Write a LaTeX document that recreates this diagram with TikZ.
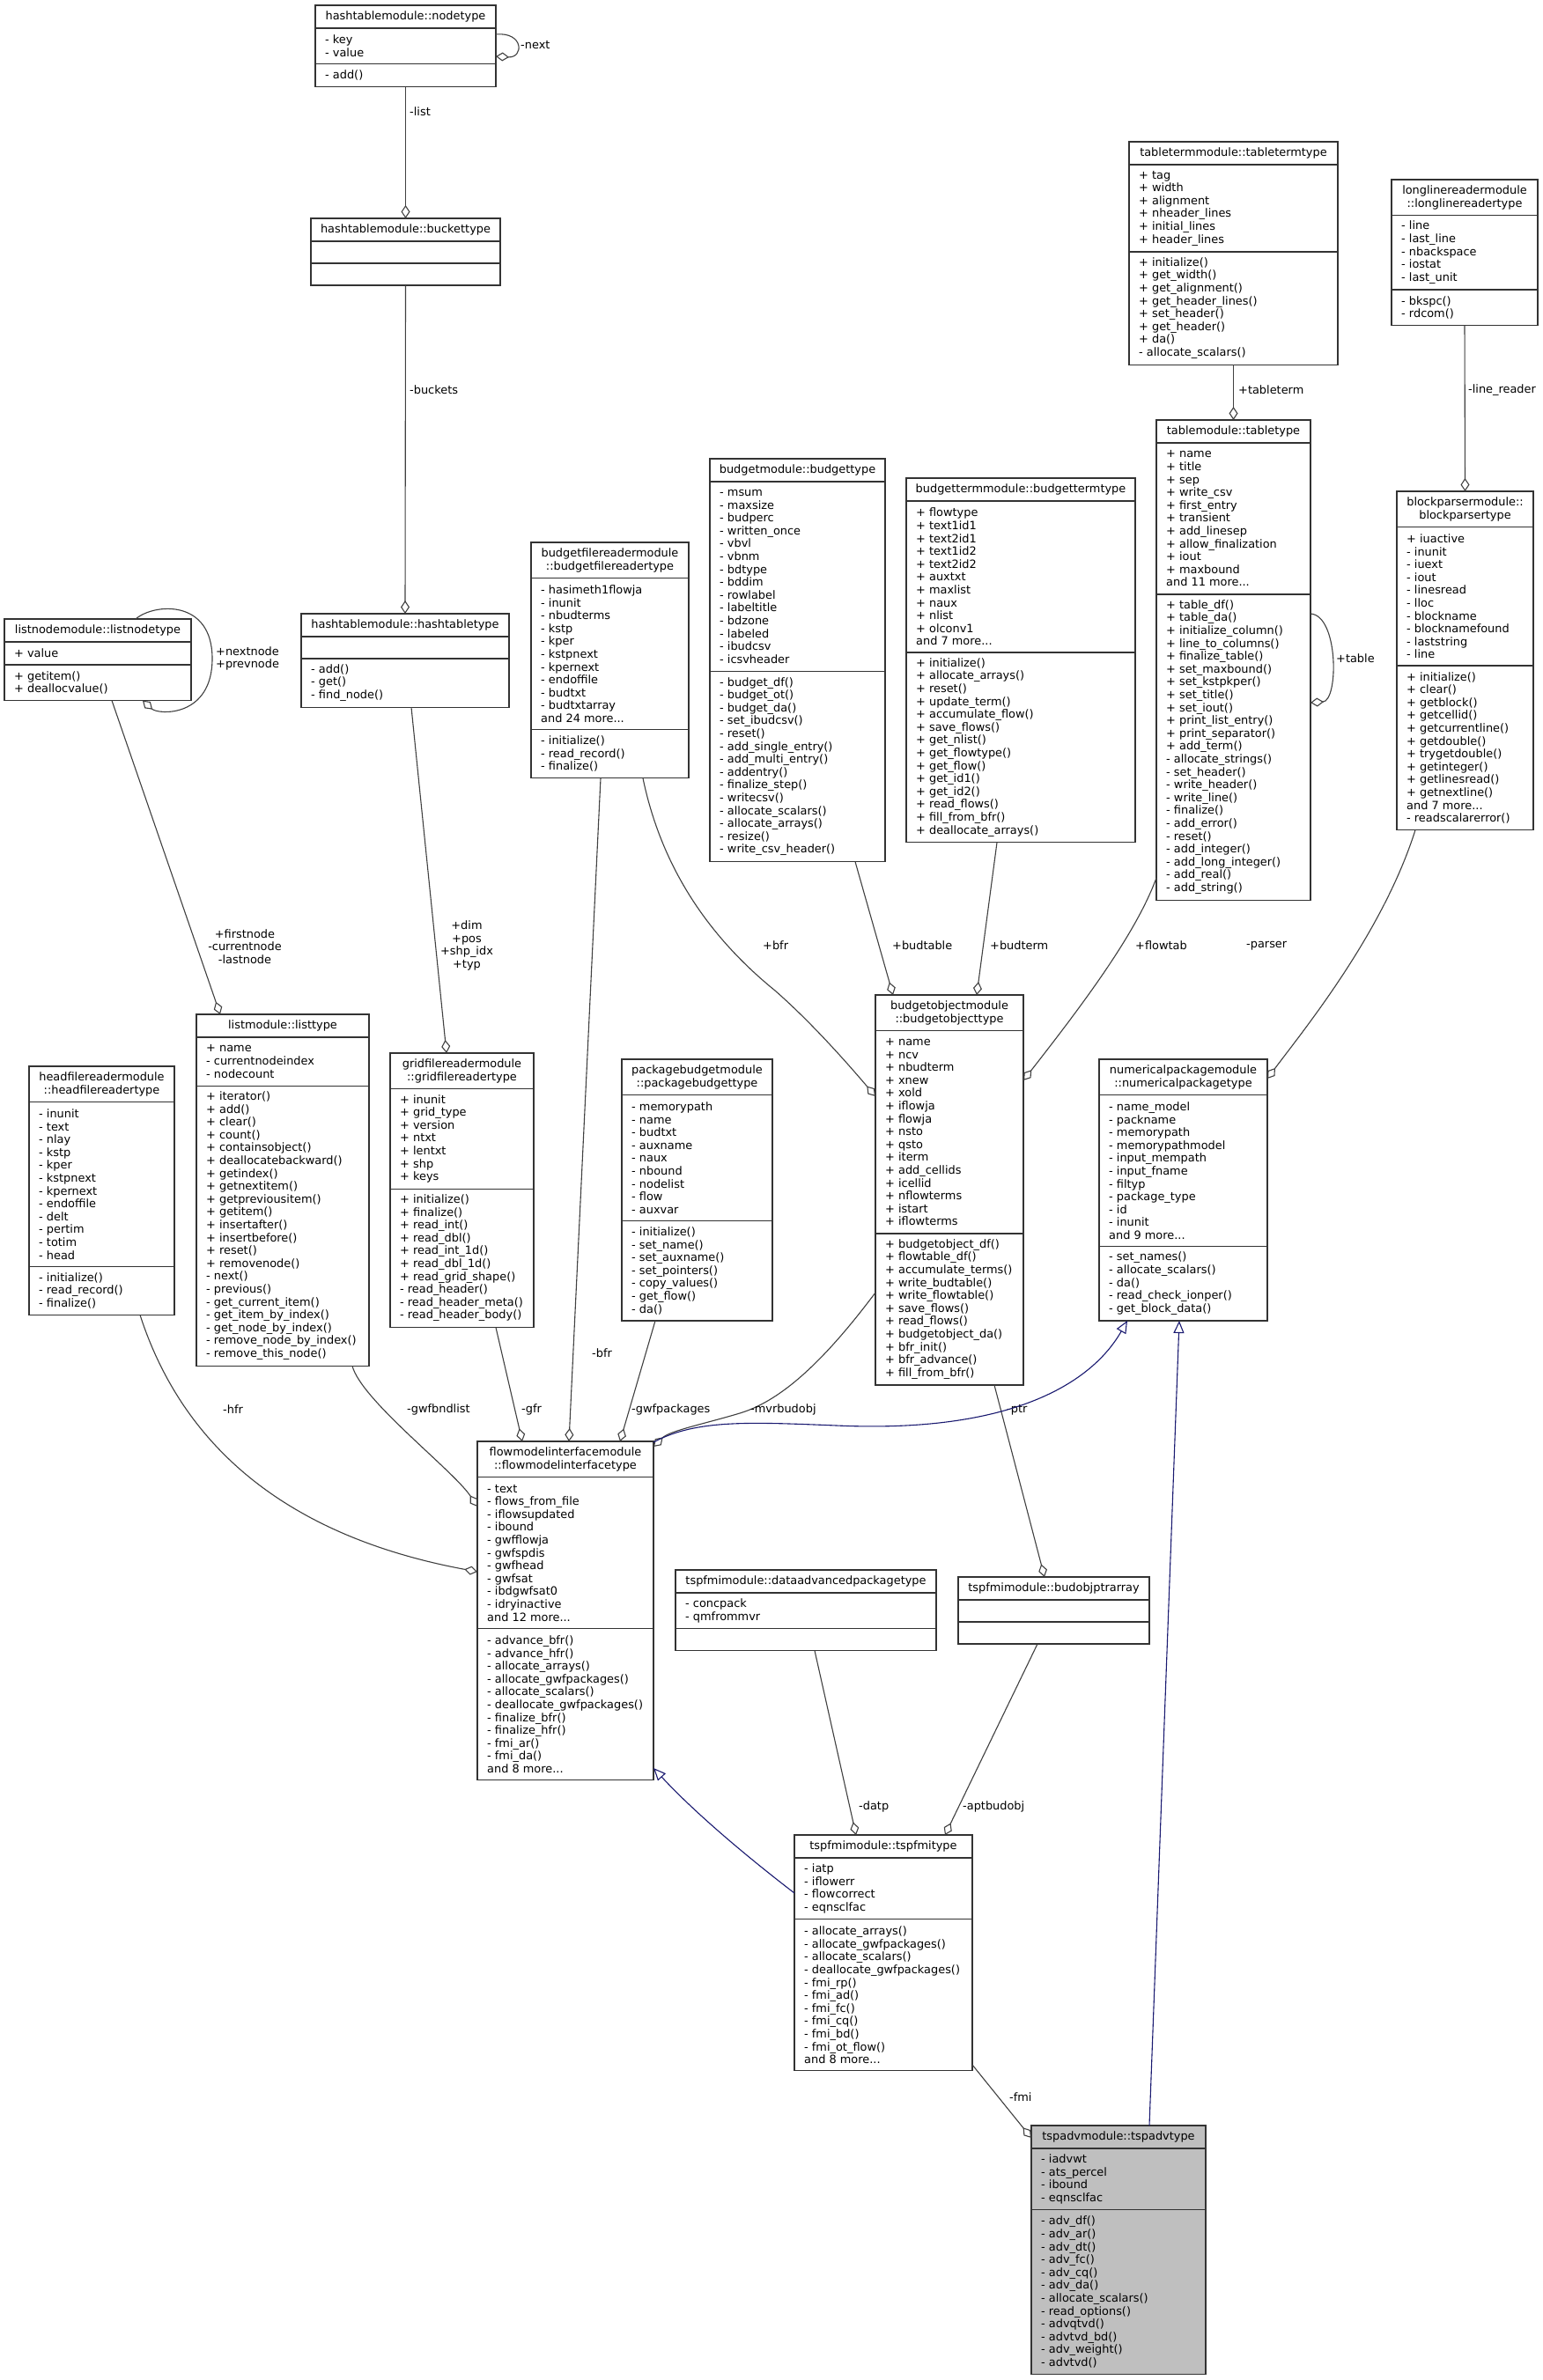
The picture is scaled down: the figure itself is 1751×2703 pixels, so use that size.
\documentclass[tikz,border=0pt]{standalone}
\usepackage{fontspec}
\setmainfont{DejaVu Sans}
\usetikzlibrary{arrows.meta,calc}
\definecolor{boxc}{HTML}{333333}
\definecolor{edgec}{HTML}{404040}
\definecolor{inhc}{HTML}{191970}
\definecolor{advfill}{HTML}{BFBFBF}
\newcommand\dfnt{\fontsize{12.9}{14.6}\selectfont}
\def\parsecounts#1/#2/#3\relax{\def\cnh{#1}\def\cna{#2}\def\cnm{#3}}
% #1 name, #2 x1, #3 x2, #4 ytop, #5 counts h/a/m, #6 header, #7 attrs, #8 methods, #9 fill
\newcommand\cbox[9]{%
  \parsecounts#5\relax
  \pgfmathsetmacro\hH{\cnh==0 ? 25 : \cnh*14.6+11.4}%
  \pgfmathsetmacro\hA{\cna==0 ? 25 : \cna*14.6+11.4}%
  \pgfmathsetmacro\hM{\cnm==0 ? 25 : \cnm*14.6+11.4}%
  \pgfmathsetmacro\yA{#4+\hH}%
  \pgfmathsetmacro\yB{\yA+\hA}%
  \pgfmathsetmacro\yC{\yB+\hM}%
  \pgfmathsetmacro\bw{#3-#2}%
  \pgfmathsetmacro\bh{\yC-#4}%
  \pgfmathsetmacro\xm{(#2+#3)/2}%
  \node[cls, fill=#9, minimum width=\bw pt, minimum height=\bh pt, anchor=north west] (#1) at (#2,#4) {};
  \draw[div] (#2,\yA) -- (#3,\yA);
  \draw[div] (#2,\yB) -- (#3,\yB);
  \node[txt, align=center] (#1-h) at (\xm,{(#4+\yA)/2}) {#6};
  \node[txt, anchor=west, align=left] (#1-a) at (#2+11,{(\yA+\yB)/2}) {#7};
  \node[txt, anchor=west, align=left] (#1-m) at (#2+11,{(\yB+\yC)/2}) {#8};
}
\begin{document}
\begin{tikzpicture}[x=1pt,y=-1pt,
  cls/.style={draw=boxc, line width=1.3pt, inner sep=0pt, outer sep=0pt},
  div/.style={draw=boxc, line width=1.3pt},
  txt/.style={inner sep=0pt, font=\dfnt, text=black},
  lbl/.style={inner sep=0pt, font=\dfnt, anchor=west, align=left},
  lblc/.style={inner sep=0pt, font=\dfnt, anchor=center, align=center},
  agg/.style={draw=edgec, line width=1.1pt, -{Diamond[open, length=15pt, width=10pt, line width=1.1pt]}},
  inh/.style={draw=inhc, line width=1.1pt, -{Triangle[open, length=14pt, width=12pt, line width=1.1pt]}},
]
\fill[white] (0,0) rectangle (1751,2703);
\useasboundingbox (0,0) rectangle (1751,2703);

% ---------- classes ----------
\cbox{nt}{358}{563}{6}{1/2/1}{hashtablemodule::nodetype}{- key\\- value}{- add()}{white}
\cbox{bt}{353}{568}{248}{1/0/0}{hashtablemodule::buckettype}{}{}{white}
\cbox{ht}{342}{578}{697}{1/0/3}{hashtablemodule::hashtabletype}{}{- add()\\- get()\\- find\_node()}{white}
\cbox{ln}{5}{217}{703}{1/1/2}{listnodemodule::listnodetype}{+ value}{+ getitem()\\+ deallocvalue()}{white}
\cbox{tt}{1282}{1519}{161}{1/6/8}{tabletermmodule::tabletermtype}{+ tag\\+ width\\+ alignment\\+ nheader\_lines\\+ initial\_lines\\+ header\_lines}{+ initialize()\\+ get\_width()\\+ get\_alignment()\\+ get\_header\_lines()\\+ set\_header()\\+ get\_header()\\+ da()\\- allocate\_scalars()}{white}
\cbox{ll}{1580}{1746}{204}{2/5/2}{longlinereadermodule\\::longlinereadertype}{- line\\- last\_line\\- nbackspace\\- iostat\\- last\_unit}{- bkspc()\\- rdcom()}{white}
\cbox{bfr}{603}{782}{616}{2/11/3}{budgetfilereadermodule\\::budgetfilereadertype}{- hasimeth1flowja\\- inunit\\- nbudterms\\- kstp\\- kper\\- kstpnext\\- kpernext\\- endoffile\\- budtxt\\- budtxtarray\\and 24 more...}{- initialize()\\- read\_record()\\- finalize()}{white}
\cbox{bud}{806}{1005}{521}{1/14/14}{budgetmodule::budgettype}{- msum\\- maxsize\\- budperc\\- written\_once\\- vbvl\\- vbnm\\- bdtype\\- bddim\\- rowlabel\\- labeltitle\\- bdzone\\- labeled\\- ibudcsv\\- icsvheader}{- budget\_df()\\- budget\_ot()\\- budget\_da()\\- set\_ibudcsv()\\- reset()\\- add\_single\_entry()\\- add\_multi\_entry()\\- addentry()\\- finalize\_step()\\- writecsv()\\- allocate\_scalars()\\- allocate\_arrays()\\- resize()\\- write\_csv\_header()}{white}
\cbox{bterm}{1029}{1289}{543}{1/11/14}{budgettermmodule::budgettermtype}{+ flowtype\\+ text1id1\\+ text2id1\\+ text1id2\\+ text2id2\\+ auxtxt\\+ maxlist\\+ naux\\+ nlist\\+ olconv1\\and 7 more...}{+ initialize()\\+ allocate\_arrays()\\+ reset()\\+ update\_term()\\+ accumulate\_flow()\\+ save\_flows()\\+ get\_nlist()\\+ get\_flowtype()\\+ get\_flow()\\+ get\_id1()\\+ get\_id2()\\+ read\_flows()\\+ fill\_from\_bfr()\\+ deallocate\_arrays()}{white}
\cbox{tab}{1313}{1488}{477}{1/11/23}{tablemodule::tabletype}{+ name\\+ title\\+ sep\\+ write\_csv\\+ first\_entry\\+ transient\\+ add\_linesep\\+ allow\_finalization\\+ iout\\+ maxbound\\and 11 more...}{+ table\_df()\\+ table\_da()\\+ initialize\_column()\\+ line\_to\_columns()\\+ finalize\_table()\\+ set\_maxbound()\\+ set\_kstpkper()\\+ set\_title()\\+ set\_iout()\\+ print\_list\_entry()\\+ print\_separator()\\+ add\_term()\\- allocate\_strings()\\- set\_header()\\- write\_header()\\- write\_line()\\- finalize()\\- add\_error()\\- reset()\\- add\_integer()\\- add\_long\_integer()\\- add\_real()\\- add\_string()}{white}
\cbox{bp}{1586}{1741}{558}{2/10/12}{blockparsermodule::\\blockparsertype}{+ iuactive\\- inunit\\- iuext\\- iout\\- linesread\\- lloc\\- blockname\\- blocknamefound\\- laststring\\- line}{+ initialize()\\+ clear()\\+ getblock()\\+ getcellid()\\+ getcurrentline()\\+ getdouble()\\+ trygetdouble()\\+ getinteger()\\+ getlinesread()\\+ getnextline()\\and 7 more...\\- readscalarerror()}{white}
\cbox{hf}{33}{198}{1211}{2/12/3}{headfilereadermodule\\::headfilereadertype}{- inunit\\- text\\- nlay\\- kstp\\- kper\\- kstpnext\\- kpernext\\- endoffile\\- delt\\- pertim\\- totim\\- head}{- initialize()\\- read\_record()\\- finalize()}{white}
\cbox{lt}{223}{419}{1152}{1/3/21}{listmodule::listtype}{+ name\\- currentnodeindex\\- nodecount}{+ iterator()\\+ add()\\+ clear()\\+ count()\\+ containsobject()\\+ deallocatebackward()\\+ getindex()\\+ getnextitem()\\+ getpreviousitem()\\+ getitem()\\+ insertafter()\\+ insertbefore()\\+ reset()\\+ removenode()\\- next()\\- previous()\\- get\_current\_item()\\- get\_item\_by\_index()\\- get\_node\_by\_index()\\- remove\_node\_by\_index()\\- remove\_this\_node()}{white}
\cbox{gf}{443}{606}{1196}{2/7/10}{gridfilereadermodule\\::gridfilereadertype}{+ inunit\\+ grid\_type\\+ version\\+ ntxt\\+ lentxt\\+ shp\\+ keys}{+ initialize()\\+ finalize()\\+ read\_int()\\+ read\_dbl()\\+ read\_int\_1d()\\+ read\_dbl\_1d()\\+ read\_grid\_shape()\\- read\_header()\\- read\_header\_meta()\\- read\_header\_body()}{white}
\cbox{pb}{706}{877}{1203}{2/9/7}{packagebudgetmodule\\::packagebudgettype}{- memorypath\\- name\\- budtxt\\- auxname\\- naux\\- nbound\\- nodelist\\- flow\\- auxvar}{- initialize()\\- set\_name()\\- set\_auxname()\\- set\_pointers()\\- copy\_values()\\- get\_flow()\\- da()}{white}
\cbox{bo}{994}{1162}{1130}{2/15/11}{budgetobjectmodule\\::budgetobjecttype}{+ name\\+ ncv\\+ nbudterm\\+ xnew\\+ xold\\+ iflowja\\+ flowja\\+ nsto\\+ qsto\\+ iterm\\+ add\_cellids\\+ icellid\\+ nflowterms\\+ istart\\+ iflowterms}{+ budgetobject\_df()\\+ flowtable\_df()\\+ accumulate\_terms()\\+ write\_budtable()\\+ write\_flowtable()\\+ save\_flows()\\+ read\_flows()\\+ budgetobject\_da()\\+ bfr\_init()\\+ bfr\_advance()\\+ fill\_from\_bfr()}{white}
\cbox{np}{1248}{1439}{1203}{2/11/5}{numericalpackagemodule\\::numericalpackagetype}{- name\_model\\- packname\\- memorypath\\- memorypathmodel\\- input\_mempath\\- input\_fname\\- filtyp\\- package\_type\\- id\\- inunit\\and 9 more...}{- set\_names()\\- allocate\_scalars()\\- da()\\- read\_check\_ionper()\\- get\_block\_data()}{white}
\cbox{fm}{542}{742}{1637}{2/11/11}{flowmodelinterfacemodule\\::flowmodelinterfacetype}{- text\\- flows\_from\_file\\- iflowsupdated\\- ibound\\- gwfflowja\\- gwfspdis\\- gwfhead\\- gwfsat\\- ibdgwfsat0\\- idryinactive\\and 12 more...}{- advance\_bfr()\\- advance\_hfr()\\- allocate\_arrays()\\- allocate\_gwfpackages()\\- allocate\_scalars()\\- deallocate\_gwfpackages()\\- finalize\_bfr()\\- finalize\_hfr()\\- fmi\_ar()\\- fmi\_da()\\and 8 more...}{white}
\cbox{da}{767}{1063}{1783}{1/2/0}{tspfmimodule::dataadvancedpackagetype}{- concpack\\- qmfrommvr}{}{white}
\cbox{bop}{1088}{1305}{1791}{1/0/0}{tspfmimodule::budobjptrarray}{}{}{white}
\cbox{fmi}{902}{1104}{2084}{1/4/11}{tspfmimodule::tspfmitype}{- iatp\\- iflowerr\\- flowcorrect\\- eqnsclfac}{- allocate\_arrays()\\- allocate\_gwfpackages()\\- allocate\_scalars()\\- deallocate\_gwfpackages()\\- fmi\_rp()\\- fmi\_ad()\\- fmi\_fc()\\- fmi\_cq()\\- fmi\_bd()\\- fmi\_ot\_flow()\\and 8 more...}{white}
\cbox{adv}{1171}{1369}{2414}{1/4/12}{tspadvmodule::tspadvtype}{- iadvwt\\- ats\_percel\\- ibound\\- eqnsclfac}{- adv\_df()\\- adv\_ar()\\- adv\_dt()\\- adv\_fc()\\- adv\_cq()\\- adv\_da()\\- allocate\_scalars()\\- read\_options()\\- advqtvd()\\- advtvd\_bd()\\- adv\_weight()\\- advtvd()}{advfill}

% ---------- connectors ----------
\draw[agg] (nt.east |- 0,39) .. controls (595,36) and (595,66) .. (nt.east |- 0,64);
\node[lbl] (l-next) at (591,51) {-next};
\draw[agg] (nt.south) -- (bt.north);
\node[lbl] (l-list) at (465,127) {-list};
\draw[agg] (bt.south) -- (ht.north);
\node[lbl] (l-buckets) at (465,443) {-buckets};
\draw[agg] (154,0 |- ln.north) .. controls (175,685) and (241,680) .. (241,748) .. controls (241,815) and (180,812) .. (162,0 |- ln.south);
\node[lbl] (l-nextnode) at (245,748) {+nextnode\\+prevnode};
\draw[agg] (127,0 |- ln.south) -- (250,0 |- lt.north);
\node[lblc] (l-firstnode) at (278,1075) {+firstnode\\-currentnode\\-lastnode};
\draw[agg] (467,0 |- ht.south) -- (507,0 |- gf.north);
\node[lblc] (l-dim) at (530,1074) {+dim\\+pos\\+shp\_idx\\+typ};
\draw[agg] (tt.south) -- (tab.north);
\node[lbl] (l-tableterm) at (1406,443) {+tableterm};
\draw[agg] (tab.east |- 0,697) .. controls (1520,699) and (1520,796) .. (tab.east |- 0,798);
\node[lbl] (l-table) at (1517,748) {+table};
\draw[agg] (ll.south) -- (bp.north);
\node[lbl] (l-linereader) at (1667,443) {-line\_reader};
\draw[agg] (730,0 |- bfr.south) .. controls (750,980) and (800,1060) .. (880,1125) .. controls (920,1160) and (960,1205) .. (bo.west |- 0,1245);
\node[lbl] (l-bfr1) at (866,1074) {+bfr};
\draw[agg] (971,0 |- bud.south) -- (1014,0 |- bo.north);
\node[lbl] (l-budtable) at (1013,1074) {+budtable};
\draw[agg] (1132,0 |- bterm.south) -- (1109,0 |- bo.north);
\node[lbl] (l-budterm) at (1124,1074) {+budterm};
\draw[agg] (tab.west |- 0,997) .. controls (1290,1060) and (1230,1140) .. (bo.east |- 0,1227);
\node[lbl] (l-flowtab) at (1289,1074) {+flowtab};
\draw[agg] (682,0 |- bfr.south) -- (646,0 |- fm.north);
\node[lbl] (l-bfr2) at (672,1537) {-bfr};
\draw[agg] (563,0 |- gf.south) -- (593,0 |- fm.north);
\node[lbl] (l-gfr) at (592,1601) {-gfr};
\draw[agg] (744,0 |- pb.south) -- (704,0 |- fm.north);
\node[lbl] (l-gwfpackages) at (717,1601) {-gwfpackages};
\draw[agg] (bo.west |- 0,1468) .. controls (940,1540) and (890,1590) .. (840,1605) .. controls (800,1617) and (760,1625) .. (fm.east |- 0,1643);
\node[lbl] (l-mvr) at (852,1601) {-mvrbudobj};
\draw[agg] (400,0 |- lt.south) .. controls (410,1590) and (515,1670) .. (fm.west |- 0,1711);
\node[lbl] (l-gwfbndlist) at (462,1601) {-gwfbndlist};
\draw[agg] (159,0 |- hf.south) .. controls (200,1620) and (300,1740) .. (fm.west |- 0,1785);
\node[lbl] (l-hfr) at (253,1601) {-hfr};
\draw[agg] (1607,0 |- bp.south) .. controls (1570,1060) and (1480,1170) .. (np.east |- 0,1225);
\node[lbl] (l-parser) at (1415,1074) {-parser};
\draw[agg] (1129,0 |- bo.south) -- (1186,0 |- bop.north);
\node[lbl] (l-ptr) at (1143,1601) {-ptr};
\draw[agg] (925,0 |- da.south) -- (972,0 |- fmi.north);
\node[lbl] (l-datp) at (975,2052) {-datp};
\draw[agg] (1178,0 |- bop.south) -- (1073,0 |- fmi.north);
\node[lbl] (l-aptbudobj) at (1093,2052) {-aptbudobj};
\draw[agg] (fmi.east |- 0,2345) -- (adv.west |- 0,2428);
\node[lbl] (l-fmi) at (1146,2382) {-fmi};
% inheritance
\draw[inh] (fm.east |- 0,1638) .. controls (790,1612) and (850,1615) .. (950,1619) .. controls (1150,1628) and (1240,1570) .. (1280,0 |- np.south);
\draw[inh] (fmi.west |- 0,2150) .. controls (850,2110) and (790,2060) .. (fm.east |- 0,2008);
\draw[inh] (1305,0 |- adv.north) -- (1339,0 |- np.south);
\end{tikzpicture}
\end{document}
